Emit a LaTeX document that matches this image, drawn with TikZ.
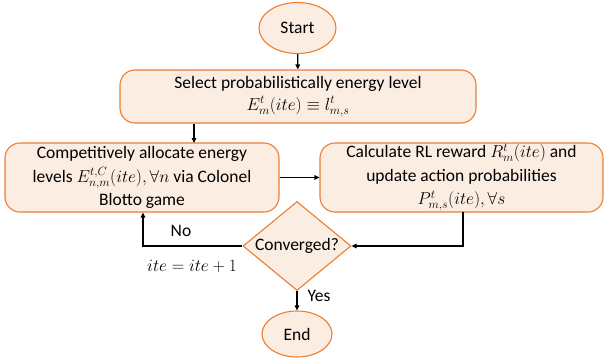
\documentclass[tikz,border=0pt]{standalone}
\usepackage{fontspec}
\setmainfont{Carlito}
\usetikzlibrary{shapes.geometric,arrows.meta}
\definecolor{boxfill}{HTML}{FCEDE3}
\definecolor{boxline}{HTML}{ED7D31}
\begin{document}
\begin{tikzpicture}[x=1pt,y=-1pt,
  every node/.style={font=\fontsize{17.5}{23.5}\selectfont},
  procbox/.style={draw=boxline,fill=boxfill,line width=1.1pt,rounded corners=15pt,align=center,inner sep=0pt},
  termin/.style={draw=boxline,fill=boxfill,line width=1.1pt,ellipse,inner sep=0pt},
  decis/.style={draw=boxline,fill=boxfill,line width=1.1pt,diamond,inner xsep=-12pt,inner ysep=-4pt},
  conn/.style={line width=1.3pt,-{Triangle[length=5pt,width=4.5pt]}}]
\useasboundingbox (0,0) rectangle (605,362);
\node[termin,minimum width=77pt,minimum height=51pt] (start) at (297.5,28) {Start};
\node[procbox,minimum width=356pt,minimum height=53pt] (select) at (298,96.5)
  {Select probabilistically energy level\\[-2pt] $E_m^t(ite)\equiv l_{m,s}^t$};
\node[procbox,minimum width=274pt,minimum height=69pt] (alloc) at (142,177.5)
  {Competitively allocate energy\\ levels $E_{n,m}^{t,C}(ite),\forall n$ via Colonel\\ Blotto game};
\node[procbox,minimum width=283pt,minimum height=69pt] (calc) at (461.5,177.5)
  {Calculate RL reward $R_m^t(ite)$ and\\ update action probabilities\\ $P_{m,s}^t(ite),\forall s$};
\node[decis,minimum width=108pt,minimum height=89pt] (conv) at (297,246) {Converged?};
\node[termin,minimum width=70pt,minimum height=46pt] (end) at (297,334) {End};
\coordinate (selbot) at (194,123);
\coordinate (alltop) at (194,143);
\coordinate (nocorner) at (143,246);
\coordinate (noend) at (143,212);
\coordinate (calcbot) at (463,212);
\coordinate (calccorner) at (463,246);
\draw[conn] (start) -- (select);
\draw[conn] (select.south -| selbot) -- (alltop);
\draw[conn] (alloc) -- (calc);
\draw[conn] (calcbot) -- (calccorner) -- (conv.east);
\draw[conn] (conv.west) -- (nocorner) -- (alloc.south -| noend);
\draw[conn] (conv) -- (end);
\node (nolab) at (181,231) {No};
\node (itelab) at (192,266) {$ite=ite+1$};
\node (yeslab) at (319,296) {Yes};
\end{tikzpicture}
\end{document}
